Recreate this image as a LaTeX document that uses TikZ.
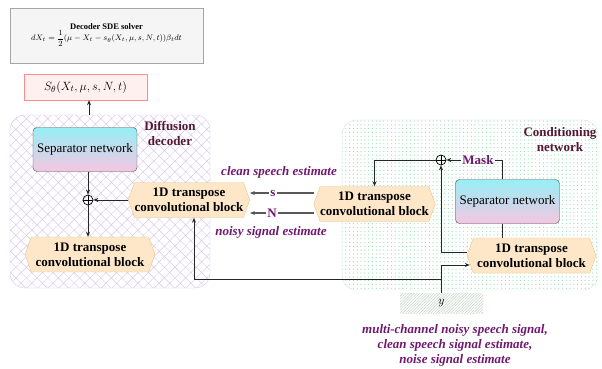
\documentclass[tikz,border=0pt]{standalone}
\usepackage{fontspec}
\setmainfont{Liberation Serif}
\usetikzlibrary{shapes.symbols,patterns.meta,arrows.meta,shadows}
\definecolor{lblpurple}{RGB}{112,24,112}
\definecolor{titlemaroon}{RGB}{84,22,52}
\definecolor{blockfill}{RGB}{253,231,200}
\definecolor{blockdraw}{RGB}{240,195,130}
\definecolor{sepTop}{RGB}{150,238,245}
\definecolor{sepBot}{RGB}{246,198,226}
\definecolor{yhatch}{RGB}{200,215,200}
\definecolor{dechatch}{RGB}{214,200,240}
\definecolor{conddots}{RGB}{140,222,172}

\begin{document}
\begin{tikzpicture}[x=1pt,y=1pt,
    convblock/.style={signal, signal to=west and east, signal pointer angle=140,
      draw=blockdraw, fill=blockfill, align=center, inner xsep=0pt,
      font=\fontsize{13}{15}\selectfont\bfseries, minimum height=35pt},
    sepnet/.style={draw=black!70, rounded corners=4pt, top color=sepTop, bottom color=sepBot,
      font=\fontsize{13}{15}\selectfont, minimum width=104pt, minimum height=44pt},
    sumnode/.style={circle, draw, line width=0.7pt, minimum size=10pt, inner sep=0pt,
      path picture={\draw[line width=0.7pt] (path picture bounding box.north) -- (path picture bounding box.south)
        (path picture bounding box.west) -- (path picture bounding box.east);}},
    lbl/.style={text=lblpurple, font=\fontsize{13}{15}\selectfont\bfseries\itshape, align=center},
    sigtag/.style={text=lblpurple, font=\fontsize{13}{15}\selectfont\bfseries, inner sep=1.5pt},
    regtitle/.style={text=titlemaroon, font=\fontsize{13}{15}\selectfont\bfseries, align=center},
    wire/.style={draw=black!85, line width=0.8pt},
    arr/.style={wire, -{Stealth[length=5pt,width=4pt]}},
    sigline/.style={draw=black!65, line width=1.2pt}]

  \useasboundingbox (0,0) rectangle (602,368);

  % regions
  \draw[draw=dechatch, rounded corners=15pt, pattern={Hatch[angle=45,distance=7.5pt,line width=0.45pt]},
    pattern color=dechatch] (10,80) rectangle (210,253);
  \draw[draw=gray!25, rounded corners=15pt, pattern={Dots[distance=3.8pt,radius=0.6pt]},
    pattern color=conddots] (342,78) rectangle (598,248);
  \node[regtitle] (dectitle) at (170,235) {Diffusion\\decoder};
  \node[regtitle] (condtitle) at (560,228) {Conditioning\\network};

  % solver and score
  \node[draw=gray!70, fill=gray!8, minimum width=193pt, minimum height=55pt, align=center,
    font=\fontsize{8.5}{13}\selectfont, drop shadow={opacity=0.25,shadow xshift=1pt,shadow yshift=-1pt}]
    (solver) at (106.5,332.5) {\textbf{Decoder SDE solver}\\[-2pt]
    $\displaystyle dX_t=\frac{1}{2}(\mu-X_t-s_\theta(X_t,\mu,s,N,t))\beta_t dt$};
  \node[draw=red!45, fill=red!6, minimum width=123pt, minimum height=26pt,
    font=\fontsize{13}{15}\selectfont] (score) at (85.5,281) {$S_\theta(X_t,\mu,s,N,t)$};

  % diffusion decoder
  \node[sepnet] (sepL) at (85,218.5) {Separator network};
  \node[sumnode] (sumL) at (88,168) {};
  \node[convblock, minimum width=118pt] (tcL) at (189,168) {1D transpose\\convolutional block};
  \node[convblock, minimum width=130pt] (tcB) at (90,113.5) {1D transpose\\convolutional block};

  % conditioning network
  \node[sumnode] (sumR) at (441,208) {};
  \node[sepnet] (sepR) at (507.5,166.5) {Separator network};
  \node[convblock, minimum width=117pt] (tcM) at (374.5,164) {1D transpose\\convolutional block};
  \node[convblock, minimum width=129pt] (tcR) at (531.5,112.5) {1D transpose\\convolutional block};
  \node[sigtag] (maskTag) at (478,208) {Mask};

  % input
  \node[pattern={Lines[angle=45,distance=2pt,line width=0.6pt]}, pattern color=yhatch,
    minimum width=83pt, minimum height=20pt, font=\fontsize{13}{15}\selectfont] (ybox) at (441.5,65) {$y$};
  \node[lbl] (ydesc) at (455,23) {multi-channel noisy speech signal,\\clean speech signal estimate,\\noise signal estimate};

  % estimates passed between the networks
  \node[lbl] (cleanlbl) at (279,196) {clean speech estimate};
  \node[lbl] (noisylbl) at (271,136) {noisy signal estimate};
  \node[sigtag] (sTag) at (273,175) {s};
  \node[sigtag] (nTag) at (272,155) {N};

  % connectors, decoder side
  \coordinate (decTop) at (89,253);
  \draw[arr] (decTop) -- (decTop |- score.south);
  \draw[arr] (sepL.south -| sumL) -- (sumL.north);
  \draw[arr] (sumL.south) -- (sumL.south |- tcB.north);
  \draw[arr] (tcL.west) -- (sumL.east);
  \draw[sigline] (tcM.west |- sTag) -- (sTag);
  \draw[arr, sigline] (sTag) -- (sTag -| tcL.east);
  \draw[sigline] (tcM.west |- nTag) -- (nTag);
  \draw[arr, sigline] (nTag) -- (nTag -| tcL.east);

  % connectors, conditioning side
  \draw[wire] ([xshift=-5pt]sepR.north) |- (maskTag.east);
  \draw[arr] (maskTag.west) -- (sumR.east);
  \draw[wire] ([xshift=-5pt]sepR.south) -- ([xshift=-5pt]sepR.south |- tcR.north);
  \draw[arr] ([yshift=3pt]tcR.west) -| (sumR.south);
  \draw[arr] (sumR.west) -| (tcM.north);

  % input y to both sides
  \draw[arr] (ybox.north) |- ([xshift=3pt,yshift=-9.5pt]tcR.west);
  \draw[arr] ([yshift=13pt]ybox.north) -| ([xshift=5pt]tcL.south);
\end{tikzpicture}
\end{document}
